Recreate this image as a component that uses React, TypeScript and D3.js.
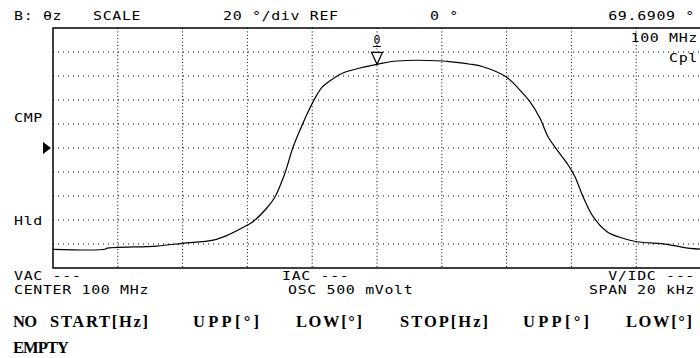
import React, { useEffect, useRef } from 'react'
import * as d3 from 'd3'

// trace: frequency offset from center (kHz) vs phase (deg)
const freqOffsetKHz = [
  -10, -8.4, -8.35, -6.8, -6.0, -5.05, -4.6, -4.0, -3.83, -3.4, -3.15, -2.84, -2.59, -2.31,
  -2.07, -1.85, -1.7, -1.45, -1.05, -0.52, 0, 0.62, 2.04, 2.25, 2.84, 3.27, 3.98, 4.41, 4.72,
  5.03, 5.28, 5.56, 5.9, 6.11, 6.36, 6.67, 7.1, 7.59, 8.02, 8.95, 9.44, 10,
]
const phaseDeg = [
  -84.4, -84.4, -83.6, -81.7, -79.4, -76.7, -72.5, -64.2, -61.4, -50, -40.8, -20.8, 0.8, 19.2,
  33.3, 44.5, 50.5, 56, 62.5, 66.7, 69.69, 72.5, 72.5, 71.9, 70.0, 67.75, 59.4, 48.3, 38.6,
  24.75, 9.4, -1.7, -14.2, -23.9, -40.6, -57.25, -69.75, -75.25, -78.1, -80.25, -82.75, -84.4,
]

const xDomain = [-10, 10]
const yDomain = [-100, 100]
const xGrid = [-8, -6, -4, -2, 0, 2, 4, 6, 8]
const yGrid = [-80, -60, -40, -20, 0, 20, 40, 60, 80]
const markerFreq = 0
const markerPhase = 69.6909

const headerTexts = ['B: θz', 'SCALE', '20 °/div REF', '0 °']
const markerReadout = '69.6909 °'
const sideLabels = ['CMP', 'Hld']
const footerLeft = ['VAC ---', 'CENTER 100 MHz']
const footerMid = ['IAC ---', 'OSC 500 mVolt']
const footerRight = ['V/IDC ---', 'SPAN 20 kHz']
const tableHeads = ['NO', 'START[Hz]', 'UPP[°]', 'LOW[°]', 'STOP[Hz]', 'UPP[°]', 'LOW[°]']
const tableRow = 'EMPTY'

const W = 700
const H = 358

export default function App() {
  const svgRef = useRef(null)

  useEffect(() => {
    if (!svgRef.current) return
    const svg = d3.select(svgRef.current)
    svg.selectAll('*').remove()
    svg.append('rect').attr('width', W).attr('height', H).attr('fill', '#fff')

    const left = 53, right = 701, top = 28, bottom = 268
    const x = d3.scaleLinear().domain(xDomain).range([left, right])
    const y = d3.scaleLinear().domain(yDomain).range([bottom, top])

    const lcd = (tx: number, ty: number, text: string, anchor = 'start') =>
      svg.append('text')
        .attr('transform', `translate(${tx},${ty}) scale(1.3,1)`)
        .attr('text-anchor', anchor)
        .attr('font-family', 'DejaVu Sans Mono, monospace')
        .attr('font-size', 11.5)
        .attr('letter-spacing', 0.5)
        .attr('fill', '#000')
        .text(text)

    // grid
    svg.append('g').selectAll('line').data(xGrid).join('line')
      .attr('x1', d => x(d)).attr('x2', d => x(d))
      .attr('y1', top).attr('y2', bottom)
      .attr('stroke', '#000').attr('stroke-width', 1)
      .attr('stroke-dasharray', '1,2.4')
    svg.append('g').selectAll('line').data(yGrid).join('line')
      .attr('x1', left).attr('x2', right)
      .attr('y1', d => y(d)).attr('y2', d => y(d))
      .attr('stroke', '#000').attr('stroke-width', 1)
      .attr('stroke-dasharray', '1,4')

    // frame
    svg.append('path')
      .attr('d', `M${right},${top}H${left}V${bottom}H${right}`)
      .attr('fill', 'none').attr('stroke', '#000').attr('stroke-width', 1.5)

    // trace
    const pts: [number, number][] = freqOffsetKHz.map((f, i) => [f, phaseDeg[i]])
    const line = d3.line<[number, number]>()
      .x(d => x(d[0])).y(d => y(d[1]))
      .curve(d3.curveCatmullRom.alpha(0.5))
    svg.append('path').datum(pts)
      .attr('d', line)
      .attr('fill', 'none').attr('stroke', '#000').attr('stroke-width', 1.2)

    // marker
    const mx = x(markerFreq), my = y(markerPhase)
    svg.append('path')
      .attr('d', `M${mx},${my}L${mx - 5.5},${my - 12}H${mx + 5.5}Z`)
      .attr('fill', '#fff').attr('stroke', '#000').attr('stroke-width', 1.2)
    svg.append('text')
      .attr('x', mx).attr('y', 44)
      .attr('text-anchor', 'middle')
      .attr('font-family', 'DejaVu Sans Mono, monospace')
      .attr('font-size', 11.5)
      .text('0')
    svg.append('line')
      .attr('x1', mx - 4).attr('x2', mx + 4).attr('y1', 46.5).attr('y2', 46.5)
      .attr('stroke', '#000').attr('stroke-width', 1)

    // reference arrow
    const ry = y(0)
    svg.append('path')
      .attr('d', `M43,${ry - 6}L51,${ry}L43,${ry + 6}Z`)
      .attr('fill', '#000')

    // header
    const headerX = [14, 93, 223, 430]
    headerTexts.forEach((t, i) => lcd(headerX[i], 20, t))
    lcd(695, 20, markerReadout, 'end')
    lcd(698, 42, '100 MHz', 'end')
    lcd(698, 62, 'Cpl', 'end')

    // side labels
    lcd(14, 122, sideLabels[0])
    lcd(14, 225, sideLabels[1])

    // footer
    lcd(14, 280, footerLeft[0])
    lcd(14, 294, footerLeft[1])
    lcd(282, 280, footerMid[0])
    lcd(288, 294, footerMid[1])
    lcd(695, 280, footerRight[0], 'end')
    lcd(695, 294, footerRight[1], 'end')

    // limit table
    const tableX = [13, 50, 193, 296, 400, 523, 626]
    const tableW = [24, 98, 66, 66, 88, 66, 66]
    svg.append('g').selectAll('text').data(tableHeads).join('text')
      .attr('x', (d, i) => tableX[i]).attr('y', 327)
      .attr('font-family', 'Liberation Serif, serif')
      .attr('font-weight', 'bold')
      .attr('font-size', 16.5)
      .attr('textLength', (d, i) => tableW[i])
      .attr('lengthAdjust', 'spacing')
      .text(d => d)
    svg.append('text')
      .attr('x', 13).attr('y', 353)
      .attr('font-family', 'Liberation Serif, serif')
      .attr('font-weight', 'bold')
      .attr('font-size', 16.5)
      .attr('textLength', 56)
      .attr('lengthAdjust', 'spacing')
      .text(tableRow)
  }, [])

  return (
    <svg
      ref={svgRef}
      width={W}
      height={H}
      style={{ position: 'absolute', left: 0, top: 0, display: 'block' }}
    />
  )
}
